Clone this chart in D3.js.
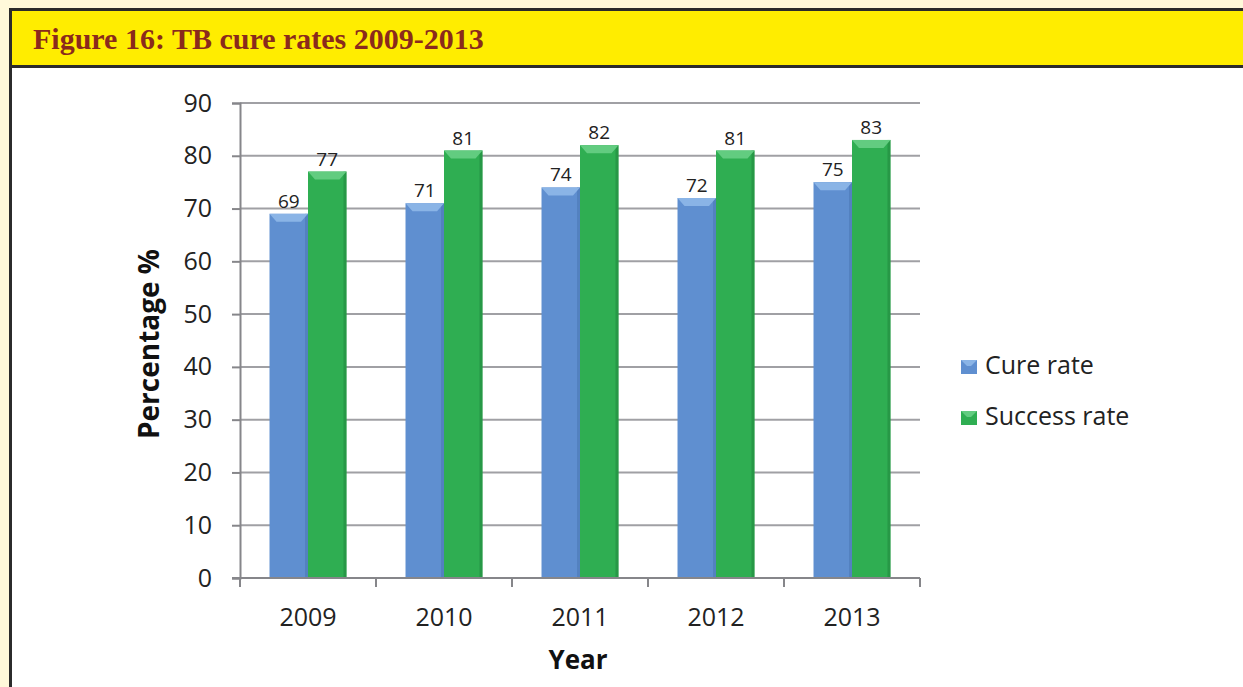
<!DOCTYPE html>
<html>
<head>
<meta charset="utf-8">
<script src="https://cdn.jsdelivr.net/npm/d3@7"></script>
<style>
  body { margin: 0; background: #fff9da; }
  svg { display: block; }
</style>
</head>
<body>
<script>
(function() {
    'use strict';

    var years = ["2009", "2010", "2011", "2012", "2013"];
    var seriesNames = ["Cure rate", "Success rate"];
    var cureRate = [69, 71, 74, 72, 75];
    var successRate = [77, 81, 82, 81, 83];
    var yTicks = [0, 10, 20, 30, 40, 50, 60, 70, 80, 90];

    var w = 1243, h = 687;
    var colors = { "Cure rate": ["#5f8fd0", "#8ab4e6", "#4b78b6"],
                   "Success rate": ["#2fae52", "#62cc80", "#23893f"] };

    var svg = d3.select("body").append("svg")
        .attr("width", w).attr("height", h);

    // frame
    svg.append("rect").attr("width", w).attr("height", h).attr("fill", "#fff9da");
    svg.append("rect").attr("x", 12).attr("y", 68).attr("width", w - 12).attr("height", h - 68)
        .attr("fill", "#ffffff");
    svg.append("rect").attr("x", 12).attr("y", 11).attr("width", w - 12).attr("height", 54)
        .attr("fill", "#ffed00");
    svg.append("rect").attr("x", 9).attr("y", 8).attr("width", w - 9).attr("height", 3).attr("fill", "#2b2b2b");
    svg.append("rect").attr("x", 9).attr("y", 65).attr("width", w - 9).attr("height", 3).attr("fill", "#2b2b2b");
    svg.append("rect").attr("x", 9).attr("y", 8).attr("width", 3).attr("height", h - 8).attr("fill", "#2b2b2b");

    svg.append("text")
        .attr("x", 33).attr("y", 49)
        .attr("font-family", "'Liberation Serif', 'DejaVu Serif', serif")
        .attr("font-weight", "bold")
        .attr("font-size", 30)
        .attr("fill", "#8a2a1c")
        .text("Figure 16: TB cure rates 2009-2013");

    // scales
    var y = d3.scaleLinear().domain([0, 90]).range([578, 103]);
    var x0 = d3.scaleBand().domain(years).range([240, 920])
        .paddingInner(0.434).paddingOuter(0.217);
    var x1 = d3.scaleBand().domain(seriesNames).range([0, x0.bandwidth()]);

    var font = "'Open Sans', 'Noto Sans', sans-serif";

    // gridlines
    svg.append("g").selectAll("line")
        .data(yTicks.slice(1))
        .enter().append("line")
        .attr("x1", 240).attr("x2", 920)
        .attr("y1", function(d) { return y(d); })
        .attr("y2", function(d) { return y(d); })
        .attr("stroke", "#a0a0a4").attr("stroke-width", 2);

    // y axis
    var yAxis = svg.append("g")
        .attr("transform", "translate(240,0)")
        .call(d3.axisLeft(y).tickValues(yTicks).tickSize(8).tickPadding(20));
    yAxis.select(".domain").attr("stroke", "#86868a").attr("stroke-width", 2);
    yAxis.selectAll(".tick line").attr("stroke", "#86868a").attr("stroke-width", 2);
    yAxis.selectAll(".tick text")
        .attr("font-family", font).attr("font-size", 25).attr("fill", "#222");

    // bars
    var data = years.map(function(yr, i) {
        return { year: yr, values: [
            { key: "Cure rate", value: cureRate[i] },
            { key: "Success rate", value: successRate[i] }
        ] };
    });

    var groups = svg.append("g").selectAll("g")
        .data(data)
        .enter().append("g")
        .attr("transform", function(d) { return "translate(" + x0(d.year) + ",0)"; });

    var bars = groups.selectAll("g")
        .data(function(d) { return d.values; })
        .enter().append("g");

    var bw = x1.bandwidth();
    bars.append("rect")
        .attr("x", function(d) { return x1(d.key); })
        .attr("y", function(d) { return y(d.value); })
        .attr("width", bw)
        .attr("height", function(d) { return y(0) - y(d.value); })
        .attr("fill", function(d) { return colors[d.key][0]; });
    // darker side edges
    bars.append("rect")
        .attr("x", function(d) { return x1(d.key) + bw - 3; })
        .attr("y", function(d) { return y(d.value); })
        .attr("width", 3)
        .attr("height", function(d) { return y(0) - y(d.value); })
        .attr("fill", function(d) { return colors[d.key][2]; })
        .attr("opacity", 0.6);
    // bevelled top
    bars.append("path")
        .attr("d", function(d) {
            var l = x1(d.key), r = l + bw, t = y(d.value);
            return "M" + l + "," + t + "L" + r + "," + t +
                   "L" + (r - 7) + "," + (t + 8) + "L" + (l + 7) + "," + (t + 8) + "Z";
        })
        .attr("fill", function(d) { return colors[d.key][1]; });

    bars.append("text")
        .attr("x", function(d) { return x1(d.key) + bw / 2; })
        .attr("y", function(d) { return y(d.value) - 6; })
        .attr("text-anchor", "middle")
        .attr("font-family", font).attr("font-size", 19).attr("fill", "#222")
        .text(function(d) { return d.value; });

    // x axis
    svg.append("line")
        .attr("x1", 232).attr("x2", 920)
        .attr("y1", y(0)).attr("y2", y(0))
        .attr("stroke", "#86868a").attr("stroke-width", 2);
    svg.append("g").selectAll("line")
        .data(years.concat(["end"]))
        .enter().append("line")
        .attr("x1", function(d, i) { return 240 + i * x0.step(); })
        .attr("x2", function(d, i) { return 240 + i * x0.step(); })
        .attr("y1", y(0)).attr("y2", y(0) + 9)
        .attr("stroke", "#86868a").attr("stroke-width", 2);
    svg.append("g").selectAll("text")
        .data(years)
        .enter().append("text")
        .attr("x", function(d) { return x0(d) + x0.bandwidth() / 2; })
        .attr("y", 626)
        .attr("text-anchor", "middle")
        .attr("font-family", font).attr("font-size", 25).attr("fill", "#222")
        .text(function(d) { return d; });

    // axis titles
    svg.append("text")
        .attr("x", 578).attr("y", 669)
        .attr("text-anchor", "middle")
        .attr("font-family", font).attr("font-weight", "bold").attr("font-size", 26)
        .attr("fill", "#111")
        .text("Year");
    svg.append("text")
        .attr("transform", "translate(159,344) rotate(-90)")
        .attr("text-anchor", "middle")
        .attr("font-family", font).attr("font-weight", "bold").attr("font-size", 28)
        .attr("fill", "#111")
        .text("Percentage %");

    // legend
    var legend = svg.append("g").selectAll("g")
        .data(seriesNames)
        .enter().append("g")
        .attr("transform", function(d, i) { return "translate(961," + (374 + i * 51) + ")"; });
    legend.append("rect")
        .attr("y", -14)
        .attr("width", 16).attr("height", 14)
        .attr("fill", function(d) { return colors[d][0]; });
    legend.append("path")
        .attr("d", "M0,-14L16,-14L10,-8L6,-8Z")
        .attr("fill", function(d) { return colors[d][1]; });
    legend.append("text")
        .attr("x", 24).attr("y", 0)
        .attr("font-family", font).attr("font-size", 25).attr("fill", "#222")
        .text(function(d) { return d; });
}());
</script>
</body>
</html>
